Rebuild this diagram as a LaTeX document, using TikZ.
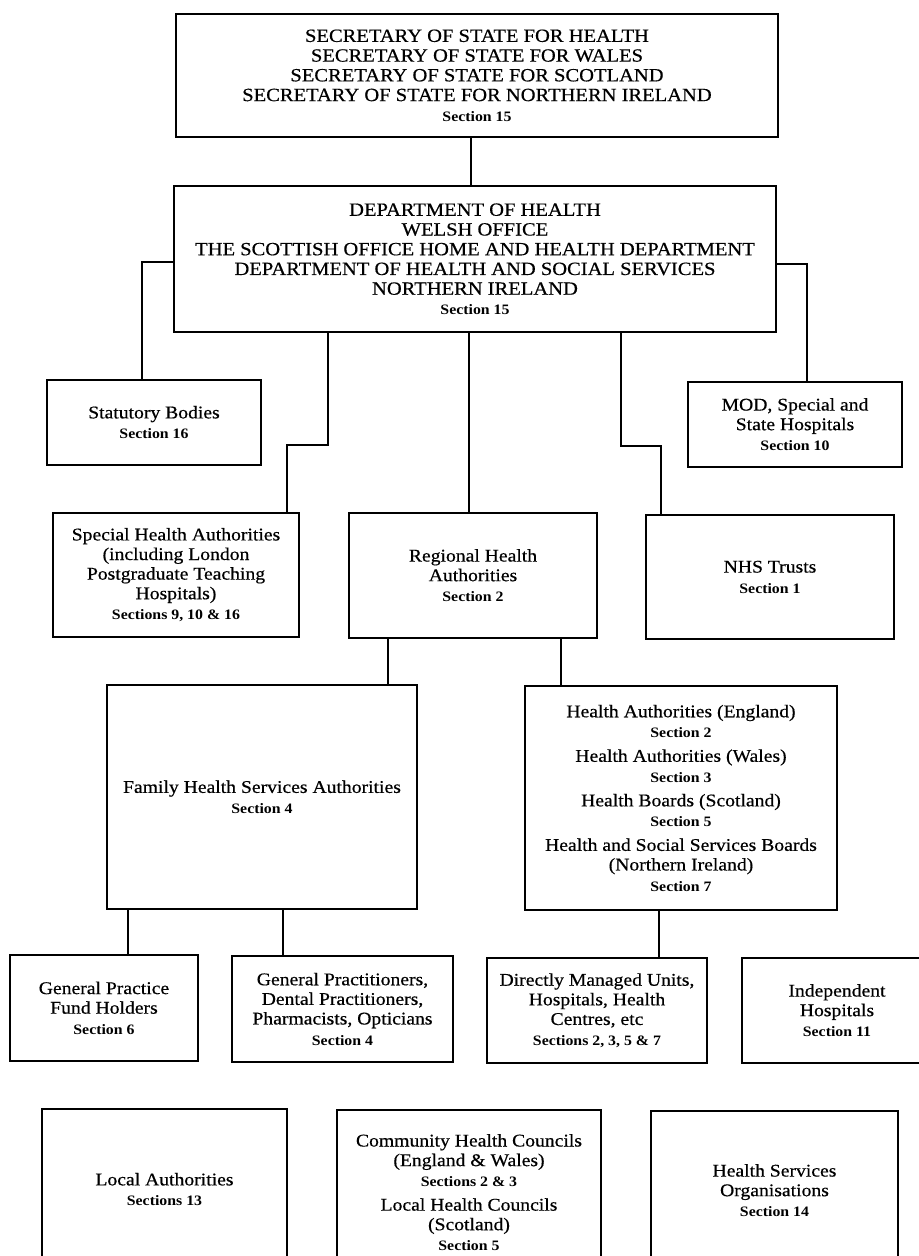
\documentclass[tikz,border=0pt]{standalone}
\usepackage{fontspec}
\setmainfont{Liberation Serif}[FakeStretch=1.1, UprightFeatures={FakeBold=0.5}]
\newcommand{\sect}[1]{{\fontsize{10.8pt}{13pt}\selectfont\bfseries #1}}
\tikzset{
  box/.style={draw, line width=1.1pt, align=center, inner sep=0pt,
    font=\fontsize{13.4pt}{14.7pt}\selectfont},
  titlebox/.style={box, font=\fontsize{14pt}{14.8pt}\selectfont},
  sz/.style 2 args={minimum width=#1*0.75pt, minimum height=#2*0.75pt},
  link/.style={line width=0.9pt}
}
\begin{document}
\begin{tikzpicture}[x=0.75pt,y=-0.75pt]
\useasboundingbox (0,0) rectangle (919,1256);
\clip (0,0) rectangle (919,1256);
\fill[white] (0,0) rectangle (919,1256);

% boxes
\node[titlebox, sz={602}{123}] (top) at (477,75.5)
  {SECRETARY OF STATE FOR HEALTH\\SECRETARY OF STATE FOR WALES\\SECRETARY OF STATE FOR SCOTLAND\\SECRETARY OF STATE FOR NORTHERN IRELAND\\[0.4pt]\sect{Section 15}};
\node[titlebox, sz={602}{146}] (dept) at (475,259)
  {DEPARTMENT OF HEALTH\\WELSH OFFICE\\THE SCOTTISH OFFICE HOME AND HEALTH DEPARTMENT\\DEPARTMENT OF HEALTH AND SOCIAL SERVICES\\NORTHERN IRELAND\\\sect{Section 15}};
\node[box, sz={214}{85}] (stat) at (154,422.5)
  {Statutory Bodies\\[0.7pt]\sect{Section 16}};
\node[box, sz={214}{85}] (mod) at (795,424.5)
  {MOD, Special and\\State Hospitals\\[0.7pt]\sect{Section 10}};
\node[box, sz={246}{124}] (spec) at (176,575)
  {Special Health Authorities\\(including London\\Postgraduate Teaching\\Hospitals)\\[0.7pt]\sect{Sections 9, 10 \& 16}};
\node[box, sz={248}{125}] (reg) at (473,575.5)
  {Regional Health\\Authorities\\[0.7pt]\sect{Section 2}};
\node[box, sz={248}{124}] (nhs) at (770,577)
  {NHS Trusts\\[0.7pt]\sect{Section 1}};
\node[box, sz={310}{224}] (fhsa) at (262,797)
  {Family Health Services Authorities\\[0.7pt]\sect{Section 4}};
\node[box, sz={312}{224}] (ha) at (681,798)
  {Health Authorities (England)\\[0.7pt]\sect{Section 2}\\[3.3pt]Health Authorities (Wales)\\[0.7pt]\sect{Section 3}\\[3.3pt]Health Boards (Scotland)\\[0.7pt]\sect{Section 5}\\[3.3pt]Health and Social Services Boards\\(Northern Ireland)\\[0.7pt]\sect{Section 7}};
\node[box, sz={188}{106}] (gpfh) at (104,1008)
  {General Practice\\Fund Holders\\[0.7pt]\sect{Section 6}};
\node[box, sz={221}{106}] (gp) at (342.5,1009)
  {General Practitioners,\\Dental Practitioners,\\Pharmacists, Opticians\\[0.7pt]\sect{Section 4}};
\node[box, sz={220}{105}] (dmu) at (597,1010.5)
  {Directly Managed Units,\\Hospitals, Health\\Centres, etc\\[0.7pt]\sect{Sections 2, 3, 5 \& 7}};
\node[box, sz={190}{105}] (ind) at (837,1010.5)
  {Independent\\Hospitals\\[0.7pt]\sect{Section 11}};
\node[box, sz={245}{161}] (la) at (164.5,1189.5)
  {Local Authorities\\[0.7pt]\sect{Sections 13}};
\node[box, sz={264}{165}] (chc) at (469,1192.5)
  {Community Health Councils\\(England \& Wales)\\[0.7pt]\sect{Sections 2 \& 3}\\[3.3pt]Local Health Councils\\(Scotland)\\[0.7pt]\sect{Section 5}};
\node[box, sz={247}{159}] (hso) at (774.5,1190.5)
  {Health Services\\Organisations\\[0.7pt]\sect{Section 14}};

% connector coordinates
\coordinate (xt) at (471,0);
\coordinate (l1) at (142,262);
\coordinate (r1) at (807,264);
\coordinate (s1) at (328,445);
\coordinate (s2) at (287,445);
\coordinate (xc) at (469,0);
\coordinate (n1) at (621,446);
\coordinate (n2) at (661,446);
\coordinate (xf) at (388,0);
\coordinate (xh) at (561,0);
\coordinate (xg1) at (128,0);
\coordinate (xg2) at (283,0);
\coordinate (xd) at (659,0);

% connectors
\draw[link] (top.south -| xt) -- (dept.north -| xt);
\draw[link] (dept.west |- l1) -| (stat.north -| l1);
\draw[link] (dept.east |- r1) -| (mod.north -| r1);
\draw[link] (dept.south -| s1) |- (s2) -- (spec.north -| s2);
\draw[link] (dept.south -| xc) -- (reg.north -| xc);
\draw[link] (dept.south -| n1) |- (n2) -- (nhs.north -| n2);
\draw[link] (reg.south -| xf) -- (fhsa.north -| xf);
\draw[link] (reg.south -| xh) -- (ha.north -| xh);
\draw[link] (fhsa.south -| xg1) -- (gpfh.north -| xg1);
\draw[link] (fhsa.south -| xg2) -- (gp.north -| xg2);
\draw[link] (ha.south -| xd) -- (dmu.north -| xd);
\end{tikzpicture}
\end{document}
